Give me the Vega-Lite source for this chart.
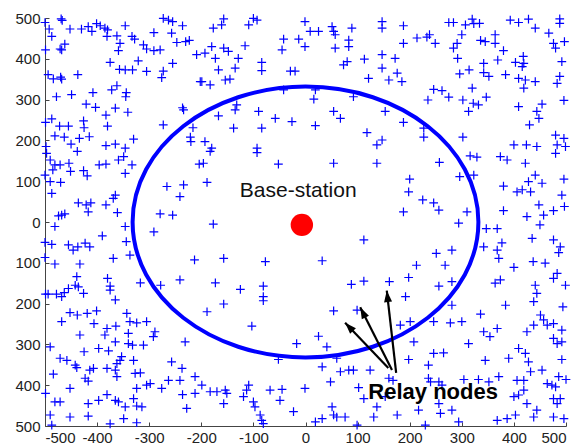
{
  "$schema": "https://vega.github.io/schema/vega-lite/v6.json",
  "autosize": "none",
  "width": 521,
  "height": 408,
  "padding": {"left": 45, "top": 18, "right": 21, "bottom": 20},
  "config": {
    "view": {"stroke": null},
    "axis": {"grid": false, "title": null, "labelFont": "Liberation Sans", "labelFontSize": 15, "labelColor": "#222", "domainColor": "#444", "tickColor": "#444", "tickSize": -4, "labelPadding": 8}
  },
  "datasets": {
    "nodes": [
{"x":-500,"y":489},{"x":-492,"y":473},{"x":-469,"y":498},{"x":-467,"y":494},{"x":-452,"y":473},{"x":-430,"y":473},{"x":-417,"y":479},{"x":-410,"y":467},{"x":-401,"y":486},{"x":-394,"y":481},{"x":-385,"y":475},{"x":-380,"y":471},{"x":-381,"y":455},{"x":-362,"y":456},{"x":-346,"y":481},{"x":-333,"y":455},{"x":-328,"y":448},{"x":-273,"y":499},{"x":-263,"y":495},{"x":-255,"y":491},{"x":-236,"y":481},{"x":-291,"y":464},{"x":-257,"y":463},{"x":-247,"y":440},{"x":-230,"y":442},{"x":-223,"y":445},{"x":-487,"y":455},{"x":-499,"y":422},{"x":-471,"y":424},{"x":-462,"y":436},{"x":-468,"y":422},{"x":-356,"y":438},{"x":-359,"y":420},{"x":-311,"y":434},{"x":-305,"y":424},{"x":-291,"y":420},{"x":-279,"y":422},{"x":-209,"y":410},{"x":-375,"y":391},{"x":-357,"y":374},{"x":-346,"y":373},{"x":-332,"y":373},{"x":-321,"y":395},{"x":-305,"y":369},{"x":-273,"y":370},{"x":-276,"y":354},{"x":-255,"y":389},{"x":-494,"y":361},{"x":-484,"y":351},{"x":-470,"y":355},{"x":-468,"y":350},{"x":-437,"y":361},{"x":-202,"y":344},{"x":-478,"y":307},{"x":-449,"y":312},{"x":-408,"y":317},{"x":-421,"y":289},{"x":-403,"y":281},{"x":-372,"y":324},{"x":-362,"y":334},{"x":-344,"y":317},{"x":-345,"y":307},{"x":-365,"y":279},{"x":-383,"y":262},{"x":-341,"y":269},{"x":-236,"y":280},{"x":-234,"y":275},{"x":-499,"y":244},{"x":-487,"y":253},{"x":-472,"y":235},{"x":-455,"y":235},{"x":-426,"y":248},{"x":-425,"y":231},{"x":-481,"y":211},{"x":-463,"y":208},{"x":-450,"y":191},{"x":-434,"y":205},{"x":-415,"y":209},{"x":-380,"y":235},{"x":-383,"y":187},{"x":-365,"y":191},{"x":-346,"y":181},{"x":-330,"y":203},{"x":-273,"y":238},{"x":-216,"y":231},{"x":-221,"y":208},{"x":-220,"y":197},{"x":-498,"y":185},
{"x":-497,"y":168},{"x":-490,"y":152},{"x":-481,"y":140},{"x":-471,"y":140},{"x":-485,"y":128},{"x":-454,"y":144},{"x":-451,"y":124},{"x":-438,"y":173},{"x":-426,"y":126},{"x":-419,"y":113},{"x":-396,"y":140},{"x":-383,"y":142},{"x":-359,"y":152},{"x":-349,"y":160},{"x":-333,"y":140},{"x":-346,"y":119},{"x":-500,"y":115},{"x":-490,"y":99},{"x":-470,"y":97},{"x":-487,"y":70},{"x":-436,"y":47},{"x":-421,"y":42},{"x":-412,"y":47},{"x":-417,"y":25},{"x":-383,"y":42},{"x":-365,"y":66},{"x":-369,"y":58},{"x":-361,"y":23},{"x":-474,"y":15},{"x":-468,"y":17},{"x":-462,"y":20},{"x":-481,"y":-11},{"x":-390,"y":-34},{"x":-346,"y":-11},{"x":-500,"y":-50},{"x":-487,"y":-55},{"x":-455,"y":-56},{"x":-446,"y":-69},{"x":-437,"y":-61},{"x":-423,"y":-52},{"x":-414,"y":-61},{"x":-433,"y":-103},{"x":-481,"y":-103},{"x":-500,"y":-87},{"x":-369,"y":-89},{"x":-344,"y":-48},{"x":-337,"y":-81},{"x":-439,"y":-134},{"x":-442,"y":-155},{"x":-436,"y":-159},{"x":-455,"y":-163},{"x":-463,"y":-173},{"x":-426,"y":-175},{"x":-499,"y":-177},{"x":-494,"y":-177},{"x":-478,"y":-177},{"x":-468,"y":-183},{"x":-380,"y":-138},{"x":-375,"y":-157},{"x":-375,"y":-167},{"x":-317,"y":-149},{"x":-278,"y":-155},{"x":-241,"y":-142},{"x":-213,"y":-93},{"x":-266,"y":87},{"x":-234,"y":91},{"x":-241,"y":62},{"x":-279,"y":20},{"x":-255,"y":17},{"x":-291,"y":-24},{"x":-204,"y":142},
{"x":-452,"y":-222},{"x":-468,"y":-244},{"x":-438,"y":-228},{"x":-419,"y":-224},{"x":-406,"y":-249},{"x":-401,"y":-218},{"x":-381,"y":-261},{"x":-385,"y":-277},{"x":-364,"y":-255},{"x":-365,"y":-191},{"x":-343,"y":-224},{"x":-337,"y":-244},{"x":-324,"y":-247},{"x":-305,"y":-244},{"x":-289,"y":-269},{"x":-292,"y":-281},{"x":-340,"y":-273},{"x":-433,"y":-277},{"x":-490,"y":-306},{"x":-425,"y":-318},{"x":-397,"y":-310},{"x":-378,"y":-316},{"x":-365,"y":-294},{"x":-340,"y":-298},{"x":-332,"y":-302},{"x":-311,"y":-302},{"x":-471,"y":-334},{"x":-458,"y":-339},{"x":-442,"y":-351},{"x":-439,"y":-357},{"x":-484,"y":-373},{"x":-414,"y":-363},{"x":-407,"y":-359},{"x":-381,"y":-359},{"x":-365,"y":-363},{"x":-362,"y":-347},{"x":-356,"y":-339},{"x":-353,"y":-330},{"x":-362,"y":-379},{"x":-330,"y":-339},{"x":-327,"y":-371},{"x":-317,"y":-370},{"x":-423,"y":-383},{"x":-417,"y":-390},{"x":-305,"y":-400},{"x":-298,"y":-396},{"x":-276,"y":-408},{"x":-324,"y":-408},{"x":-257,"y":-343},{"x":-237,"y":-359},{"x":-263,"y":-388},{"x":-241,"y":-388},{"x":-236,"y":-423},{"x":-212,"y":-379},{"x":-212,"y":-420},{"x":-228,"y":-457},{"x":-499,"y":-420},{"x":-452,"y":-408},{"x":-481,"y":-441},{"x":-471,"y":-441},{"x":-417,"y":-445},{"x":-397,"y":-437},{"x":-381,"y":-423},{"x":-365,"y":-437},{"x":-359,"y":-441},{"x":-346,"y":-453},{"x":-330,"y":-433},{"x":-324,"y":-451},{"x":-314,"y":-453},{"x":-490,"y":-473},{"x":-487,"y":-498},{"x":-452,"y":-478},{"x":-417,"y":-476},{"x":-375,"y":-495},{"x":-349,"y":-482},{"x":-324,"y":-492},{"x":-231,"y":-294},
{"x":-189,"y":-220},{"x":-157,"y":-201},{"x":-81,"y":-193},{"x":-103,"y":-255},{"x":54,"y":-218},{"x":99,"y":-216},{"x":-17,"y":-298},{"x":25,"y":-280},{"x":41,"y":-306},{"x":-52,"y":-337},{"x":60,"y":-334},{"x":32,"y":-355},{"x":67,"y":-367},{"x":83,"y":-363},{"x":92,"y":-363},{"x":124,"y":-363},{"x":48,"y":-392},{"x":160,"y":-383},{"x":168,"y":-388},{"x":-199,"y":-400},{"x":-183,"y":-416},{"x":-170,"y":-416},{"x":-154,"y":-412},{"x":-151,"y":-420},{"x":-157,"y":-445},{"x":-119,"y":-428},{"x":-113,"y":-412},{"x":-109,"y":-400},{"x":-100,"y":-441},{"x":-97,"y":-453},{"x":-68,"y":-412},{"x":-45,"y":-410},{"x":-49,"y":-437},{"x":-87,"y":-473},{"x":-84,"y":-486},{"x":-81,"y":-494},{"x":-23,"y":-465},{"x":-1,"y":-408},{"x":51,"y":-453},{"x":54,"y":-473},{"x":60,"y":-478},{"x":76,"y":-478},{"x":32,"y":-482},{"x":19,"y":-490},{"x":99,"y":-498},{"x":112,"y":-433},{"x":131,"y":-478},{"x":137,"y":-453},{"x":153,"y":-428},{"x":176,"y":-473},{"x":102,"y":-406},{"x":182,"y":-253},{"x":201,"y":-244},
{"x":281,"y":-204},{"x":384,"y":-204},{"x":438,"y":-195},{"x":494,"y":-208},{"x":336,"y":-226},{"x":246,"y":-244},{"x":278,"y":-247},{"x":300,"y":-244},{"x":208,"y":-294},{"x":342,"y":-269},{"x":354,"y":-281},{"x":368,"y":-261},{"x":313,"y":-298},{"x":425,"y":-269},{"x":438,"y":-253},{"x":451,"y":-228},{"x":457,"y":-240},{"x":464,"y":-253},{"x":476,"y":-249},{"x":492,"y":-265},{"x":476,"y":-285},{"x":483,"y":-298},{"x":492,"y":-294},{"x":246,"y":-322},{"x":265,"y":-321},{"x":198,"y":-337},{"x":236,"y":-351},{"x":345,"y":-339},{"x":390,"y":-334},{"x":409,"y":-310},{"x":422,"y":-322},{"x":428,"y":-343},{"x":492,"y":-337},{"x":236,"y":-383},{"x":240,"y":-392},{"x":256,"y":-392},{"x":262,"y":-400},{"x":304,"y":-386},{"x":332,"y":-386},{"x":352,"y":-392},{"x":371,"y":-379},{"x":406,"y":-388},{"x":419,"y":-388},{"x":432,"y":-367},{"x":454,"y":-363},{"x":464,"y":-396},{"x":473,"y":-400},{"x":480,"y":-404},{"x":486,"y":-379},{"x":500,"y":-386},{"x":419,"y":-412},{"x":409,"y":-424},{"x":400,"y":-428},{"x":476,"y":-433},{"x":489,"y":-433},{"x":217,"y":-461},{"x":259,"y":-469},{"x":281,"y":-461},{"x":256,"y":-445},{"x":230,"y":-498},{"x":294,"y":-490},{"x":368,"y":-486},{"x":387,"y":-482},{"x":403,"y":-473},{"x":425,"y":-445},{"x":438,"y":-478},{"x":444,"y":-461},{"x":476,"y":-478},{"x":496,"y":-482},{"x":483,"y":-445},
{"x":-183,"y":173},{"x":-93,"y":170},{"x":-196,"y":144},{"x":-52,"y":142},{"x":54,"y":144},{"x":137,"y":144},{"x":-189,"y":97},{"x":-177,"y":-5},{"x":112,"y":-44},{"x":-157,"y":-89},{"x":-77,"y":-97},{"x":32,"y":-95},{"x":-173,"y":-149},{"x":-125,"y":-165},{"x":-81,"y":-157},{"x":-81,"y":-183},{"x":88,"y":-153},{"x":112,"y":-145},{"x":161,"y":-146},
{"x":188,"y":481},{"x":188,"y":438},{"x":185,"y":344},{"x":188,"y":244},{"x":275,"y":489},{"x":284,"y":489},{"x":307,"y":483},{"x":320,"y":497},{"x":323,"y":486},{"x":334,"y":487},{"x":214,"y":451},{"x":233,"y":453},{"x":238,"y":459},{"x":249,"y":438},{"x":300,"y":459},{"x":291,"y":438},{"x":284,"y":426},{"x":336,"y":445},{"x":345,"y":442},{"x":364,"y":459},{"x":364,"y":438},{"x":380,"y":420},{"x":393,"y":495},{"x":409,"y":489},{"x":428,"y":497},{"x":441,"y":475},{"x":467,"y":463},{"x":488,"y":498},{"x":488,"y":487},{"x":476,"y":438},{"x":480,"y":426},{"x":497,"y":442},{"x":292,"y":401},{"x":369,"y":397},{"x":342,"y":389},{"x":342,"y":366},{"x":352,"y":357},{"x":403,"y":391},{"x":418,"y":406},{"x":419,"y":389},{"x":416,"y":381},{"x":492,"y":393},{"x":296,"y":363},{"x":314,"y":373},{"x":384,"y":361},{"x":409,"y":352},{"x":422,"y":348},{"x":441,"y":344},{"x":419,"y":328},{"x":488,"y":357},{"x":483,"y":340},{"x":320,"y":328},{"x":246,"y":325},{"x":262,"y":322},{"x":275,"y":306},{"x":235,"y":299},{"x":302,"y":299},{"x":322,"y":291},{"x":332,"y":287},{"x":347,"y":306},{"x":313,"y":271},{"x":409,"y":283},{"x":454,"y":289},{"x":444,"y":271},{"x":448,"y":254},{"x":430,"y":238},{"x":496,"y":298},{"x":227,"y":230},{"x":227,"y":208},{"x":302,"y":208},{"x":400,"y":189},{"x":424,"y":189},{"x":444,"y":185},{"x":480,"y":213},{"x":496,"y":205},{"x":483,"y":189},{"x":499,"y":185},
{"x":-157,"y":498},{"x":-161,"y":483},{"x":-177,"y":475},{"x":-100,"y":499},{"x":-93,"y":495},{"x":-109,"y":483},{"x":-193,"y":414},{"x":-173,"y":401},{"x":-180,"y":430},{"x":-157,"y":426},{"x":-148,"y":418},{"x":-116,"y":432},{"x":-129,"y":401},{"x":-135,"y":377},{"x":-167,"y":373},{"x":-84,"y":391},{"x":-84,"y":371},{"x":-154,"y":348},{"x":-145,"y":350},{"x":-183,"y":336},{"x":-199,"y":344},{"x":-29,"y":370},{"x":-20,"y":370},{"x":-42,"y":448},{"x":-45,"y":422},{"x":-13,"y":448},{"x":-1,"y":430},{"x":-1,"y":491},{"x":9,"y":467},{"x":25,"y":467},{"x":51,"y":479},{"x":54,"y":467},{"x":57,"y":459},{"x":89,"y":475},{"x":57,"y":426},{"x":83,"y":446},{"x":83,"y":430},{"x":80,"y":393},{"x":73,"y":385},{"x":113,"y":399},{"x":147,"y":491},{"x":147,"y":475},{"x":147,"y":410},{"x":147,"y":377},{"x":172,"y":401},{"x":121,"y":352},{"x":160,"y":348},{"x":176,"y":365},{"x":-42,"y":324},{"x":16,"y":301},{"x":19,"y":324},{"x":92,"y":307},{"x":-132,"y":287},{"x":-135,"y":275},{"x":-167,"y":260},{"x":-90,"y":271},{"x":-58,"y":254},{"x":-26,"y":246},{"x":-138,"y":230},{"x":-84,"y":230},{"x":19,"y":236},{"x":54,"y":271},{"x":67,"y":254},{"x":118,"y":219},{"x":137,"y":189},{"x":147,"y":201},{"x":153,"y":271},{"x":-193,"y":197},{"x":-180,"y":181},{"x":-93,"y":181},
{"x":257,"y":146},{"x":316,"y":162},{"x":329,"y":159},{"x":374,"y":160},{"x":387,"y":152},{"x":422,"y":144},{"x":480,"y":168},{"x":200,"y":105},{"x":198,"y":74},{"x":296,"y":111},{"x":323,"y":115},{"x":380,"y":88},{"x":406,"y":74},{"x":416,"y":79},{"x":428,"y":99},{"x":441,"y":115},{"x":454,"y":95},{"x":432,"y":74},{"x":496,"y":105},{"x":225,"y":54},{"x":246,"y":47},{"x":256,"y":29},{"x":188,"y":25},{"x":310,"y":25},{"x":380,"y":28},{"x":448,"y":42},{"x":457,"y":17},{"x":476,"y":28},{"x":497,"y":38},{"x":492,"y":66},{"x":425,"y":13},{"x":450,"y":-7},{"x":294,"y":-3},{"x":347,"y":-16},{"x":368,"y":-16},{"x":377,"y":-51},{"x":368,"y":-69},{"x":371,"y":-89},{"x":342,"y":-61},{"x":435,"y":-40},{"x":476,"y":-44},{"x":489,"y":-61},{"x":486,"y":-75},{"x":251,"y":-77},{"x":281,"y":-69},{"x":213,"y":-106},{"x":268,"y":-106},{"x":400,"y":-111},{"x":437,"y":-97},{"x":460,"y":-101},{"x":483,"y":-126},{"x":476,"y":-138},{"x":198,"y":-136},{"x":256,"y":-157},{"x":281,"y":-146},{"x":364,"y":-150},{"x":374,"y":-142},{"x":441,"y":-155},{"x":444,"y":-175},{"x":499,"y":-155},{"x":192,"y":-183}
    ],
    "range": [{"x": 0, "y": 0}],
    "station": [{"x": -7, "y": -7, "label": "Base-station"}],
    "arrows": [
      {"x": 159, "y": -358, "tx": 76, "ty": -247, "heading": 316.5},
      {"x": 166, "y": -363, "tx": 105, "ty": -209, "heading": 333.2},
      {"x": 174, "y": -370, "tx": 156, "ty": -168, "heading": 353.6}
    ],
    "labels": [
      {"x": -14, "y": 62, "text": "Base-station", "kind": "station"},
      {"x": 245, "y": -435, "text": "Relay nodes", "kind": "relay"}
    ]
  },
  "layer": [
    {
      "data": {"name": "nodes"},
      "mark": {"type": "point", "shape": "M-1,0L1,0M0,-1L0,1", "size": 76, "filled": false, "stroke": "#0000ff", "strokeWidth": 1.2, "opacity": 1},
      "encoding": {
        "x": {"field": "x", "type": "quantitative", "scale": {"domain": [-500, 500], "nice": false, "zero": false},
              "axis": {"values": [-500,-400,-300,-200,-100,0,100,200,300,400,500], "labelExpr": "'' + datum.value", "labelPadding": 8}},
        "y": {"field": "y", "type": "quantitative", "scale": {"domain": [-500, 500], "nice": false, "zero": false},
              "axis": {"values": [-500,-400,-300,-200,-100,0,100,200,300,400,500], "labelExpr": "'' + abs(datum.value)", "labelPadding": 9}}
      }
    },
    {
      "data": {"name": "range"},
      "mark": {"type": "point", "shape": "M-1,0A1,0.783,0,1,1,1,0A1,0.783,0,1,1,-1,0Z", "size": 119578, "filled": false, "stroke": "#0000ff", "strokeWidth": 4, "opacity": 1},
      "encoding": {"x": {"field": "x", "type": "quantitative"}, "y": {"field": "y", "type": "quantitative"}}
    },
    {
      "data": {"name": "station"},
      "mark": {"type": "point", "shape": "circle", "size": 503, "filled": true, "fill": "#ff0000", "opacity": 1, "strokeWidth": 0},
      "encoding": {"x": {"field": "x", "type": "quantitative"}, "y": {"field": "y", "type": "quantitative"}}
    },
    {
      "data": {"name": "arrows"},
      "mark": {"type": "rule", "color": "#000", "strokeWidth": 2.2},
      "encoding": {"x": {"field": "x", "type": "quantitative"}, "y": {"field": "y", "type": "quantitative"}, "x2": {"field": "tx"}, "y2": {"field": "ty"}}
    },
    {
      "data": {"name": "arrows"},
      "mark": {"type": "point", "shape": "M0,0L0.4,1.15L-0.4,1.15Z", "size": 400, "filled": true, "fill": "#000", "opacity": 1, "strokeWidth": 0},
      "encoding": {"x": {"field": "tx", "type": "quantitative"}, "y": {"field": "ty", "type": "quantitative"}, "angle": {"field": "heading", "type": "quantitative", "scale": null}}
    },
    {
      "data": {"name": "labels"},
      "transform": [{"filter": "datum.kind == 'station'"}],
      "mark": {"type": "text", "font": "Liberation Sans", "fontSize": 21, "color": "#111", "align": "center", "baseline": "alphabetic"},
      "encoding": {"x": {"field": "x", "type": "quantitative"}, "y": {"field": "y", "type": "quantitative"}, "text": {"field": "text"}}
    },
    {
      "data": {"name": "labels"},
      "transform": [{"filter": "datum.kind == 'relay'"}],
      "mark": {"type": "text", "font": "Liberation Sans", "fontSize": 22, "fontWeight": "bold", "color": "#000", "align": "center", "baseline": "alphabetic"},
      "encoding": {"x": {"field": "x", "type": "quantitative"}, "y": {"field": "y", "type": "quantitative"}, "text": {"field": "text"}}
    }
  ]
}
